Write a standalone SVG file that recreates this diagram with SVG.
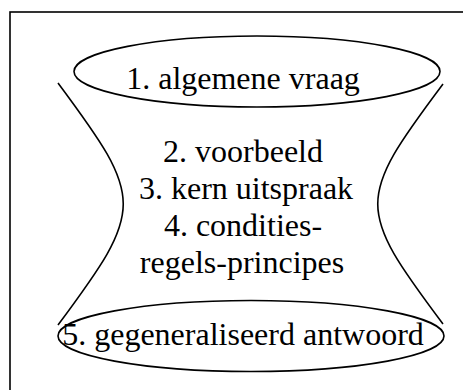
<svg xmlns="http://www.w3.org/2000/svg" width="463" height="390" viewBox="0 0 463 390">
  <style>
    .shape { fill: none; stroke: #000; stroke-width: 1.6; }
    .label { font-family: "Liberation Serif", "Times New Roman", serif; font-size: 32px; fill: #000; text-anchor: middle; }
  </style>
  <rect x="0" y="0" width="463" height="390" fill="#fff"/>
  <!-- outer frame -->
  <rect id="frame" class="shape" x="10" y="12" width="470" height="400"/>
  <!-- hourglass sides -->
  <g id="connectors">
    <path class="shape" d="M58,83 C145,200 145,208 58,325"/>
    <path class="shape" d="M443,84 C356,200 356,208 443,324"/>
  </g>
  <g id="node-top">
    <ellipse class="shape" cx="257" cy="71.5" rx="183" ry="35.5"/>
    <text class="label" x="243" y="89">1. algemene vraag</text>
  </g>
  <g id="node-middle">
    <text class="label" x="243" y="162">2. voorbeeld</text>
    <text class="label" x="246" y="199">3. kern uitspraak</text>
    <text class="label" x="243" y="236">4. condities-</text>
    <text class="label" x="242" y="273">regels-principes</text>
  </g>
  <g id="node-bottom">
    <ellipse class="shape" cx="251" cy="336" rx="193" ry="35.5"/>
    <text class="label" x="243" y="345">5. gegeneraliseerd antwoord</text>
  </g>
</svg>
